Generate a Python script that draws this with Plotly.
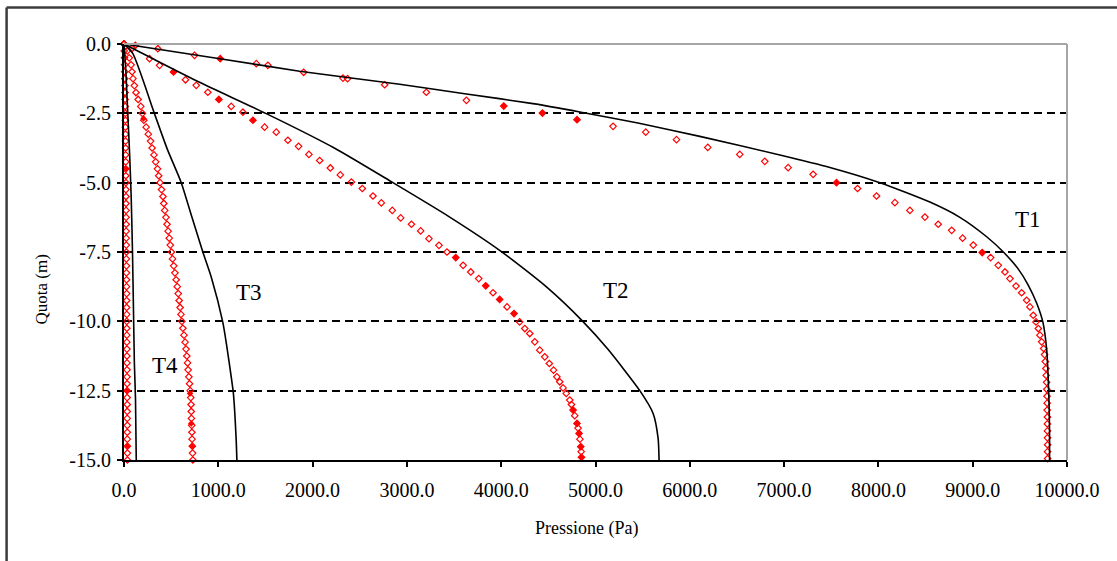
import plotly.graph_objects as go

# ---------------- data ----------------
# Black curves (x = pressure Pa, y = elevation m)
T1_LINE_X = [0, 1000, 1862, 2923, 3631, 4337, 4833, 5450, 6106, 6955, 7486, 8016, 8546, 8864, 9148, 9325, 9480, 9590, 9680, 9745, 9785, 9800, 9810, 9815, 9815]
T1_LINE_Y = [0, -0.52, -0.98, -1.45, -1.80, -2.15, -2.45, -2.85, -3.33, -4.00, -4.45, -5.00, -5.70, -6.25, -6.95, -7.50, -8.10, -8.70, -9.36, -10.04, -11.04, -12.0, -13.0, -14.0, -15.0]

T2_LINE_X = [0, 271, 801, 1509, 2230, 2852, 3454, 3984, 4480, 4865, 5130, 5470, 5611, 5664, 5674]
T2_LINE_Y = [0, -0.47, -1.38, -2.51, -3.75, -5.00, -6.24, -7.44, -8.76, -10.0, -11.0, -12.50, -13.32, -14.22, -15.0]

T3_LINE_X = [0, 94, 323, 460, 607, 720, 836, 925, 1048, 1090, 1137, 1160, 1190, 1197]
T3_LINE_Y = [0, -0.35, -2.51, -3.80, -5.0, -6.24, -7.5, -8.40, -10.04, -10.9, -12.0, -12.6, -14.3, -15.0]

T4_LINE_X = [0, 20, 40, 60, 76, 90, 100, 110, 122, 130]
T4_LINE_Y = [0, -1.0, -2.5, -4.0, -5.5, -7.5, -9.5, -11.5, -12.8, -15.0]

# Red open-diamond series
T1_PTS_X = [0, 120, 359, 748, 1021, 1403, 1526, 1905, 2322, 2371, 2764, 3206, 3631, 4027, 4437, 4804, 5186, 5533, 5859, 6191, 6530, 6795, 7043, 7308, 7556, 7779, 7980, 8175, 8334, 8493, 8634, 8777, 8893, 9006, 9101, 9190, 9271, 9342, 9395, 9459, 9519, 9572, 9607, 9642, 9671, 9696, 9713, 9731, 9752, 9762, 9770, 9776, 9780, 9784, 9786, 9788, 9790, 9790, 9792, 9792, 9793, 9793, 9794, 9794, 9795]
T1_PTS_Y = [0, -0.05, -0.17, -0.41, -0.53, -0.71, -0.77, -1.02, -1.23, -1.25, -1.47, -1.74, -2.03, -2.24, -2.49, -2.73, -2.97, -3.18, -3.45, -3.73, -3.98, -4.23, -4.46, -4.70, -5.00, -5.21, -5.48, -5.72, -6.00, -6.24, -6.50, -6.72, -7.00, -7.25, -7.52, -7.70, -7.98, -8.22, -8.46, -8.73, -8.97, -9.24, -9.48, -9.78, -10.02, -10.26, -10.50, -10.74, -10.98, -11.20, -11.45, -11.70, -11.95, -12.20, -12.45, -12.70, -12.95, -13.20, -13.45, -13.70, -13.95, -14.20, -14.45, -14.70, -14.95]

T2_PTS_X = [0, 90, 271, 377, 525, 652, 766, 889, 1006, 1137, 1261, 1367, 1491, 1615, 1738, 1851, 1961, 2075, 2188, 2294, 2411, 2527, 2640, 2729, 2845, 2934, 3048, 3146, 3234, 3340, 3425, 3518, 3596, 3677, 3762, 3836, 3913, 3984, 4062, 4136, 4196, 4250, 4303, 4356, 4409, 4462, 4510, 4555, 4590, 4621, 4656, 4690, 4727, 4745, 4762, 4780, 4804, 4815, 4826, 4835, 4844, 4848, 4851]
T2_PTS_Y = [0, -0.15, -0.53, -0.77, -1.01, -1.29, -1.49, -1.74, -2.00, -2.25, -2.46, -2.75, -3.00, -3.18, -3.47, -3.69, -3.98, -4.20, -4.47, -4.72, -4.98, -5.21, -5.48, -5.73, -6.00, -6.27, -6.50, -6.74, -7.02, -7.26, -7.50, -7.70, -7.98, -8.22, -8.46, -8.72, -8.97, -9.21, -9.48, -9.72, -10.02, -10.26, -10.44, -10.74, -11.04, -11.28, -11.52, -11.76, -12.00, -12.18, -12.40, -12.60, -12.84, -13.00, -13.20, -13.40, -13.68, -13.85, -14.04, -14.25, -14.52, -14.70, -14.90]

T3_PTS_X = [0, 35, 55, 75, 85, 95, 110, 127, 150, 178, 195, 210, 235, 258, 282, 298, 318, 336, 355, 368, 382, 398, 413, 422, 432, 445, 456, 468, 480, 491, 503, 515, 527, 540, 553, 565, 575, 585, 595, 604, 613, 624, 636, 648, 658, 666, 674, 680, 688, 695, 702, 708, 711, 713, 715, 718, 720, 722, 725, 727, 730]
T3_PTS_Y = [0, -0.25, -0.5, -0.75, -1.0, -1.25, -1.5, -1.75, -2.0, -2.25, -2.5, -2.75, -3.0, -3.25, -3.5, -3.75, -4.0, -4.25, -4.5, -4.75, -5.0, -5.25, -5.5, -5.75, -6.0, -6.25, -6.5, -6.75, -7.0, -7.25, -7.5, -7.75, -8.0, -8.25, -8.5, -8.75, -9.0, -9.25, -9.5, -9.75, -10.0, -10.25, -10.5, -10.75, -11.0, -11.25, -11.5, -11.75, -12.0, -12.25, -12.5, -12.75, -13.0, -13.25, -13.5, -13.75, -14.0, -14.25, -14.5, -14.75, -15.0]

T4_PTS_X = [0, 3, 5, 7, 8, 9, 10, 11, 12, 13, 14, 15, 15, 16, 16, 17, 17, 18, 18, 19, 20, 20, 21, 21, 22, 22, 23, 23, 24, 24, 25, 25, 26, 26, 27, 27, 28, 28, 28, 29, 29, 30, 30, 30, 31, 31, 32, 32, 32, 33, 33, 33, 34, 34, 34, 35, 35, 35, 36, 36, 36]
T4_PTS_Y = [0, -0.25, -0.5, -0.75, -1.0, -1.25, -1.5, -1.75, -2.0, -2.25, -2.5, -2.75, -3.0, -3.25, -3.5, -3.75, -4.0, -4.25, -4.5, -4.75, -5.0, -5.25, -5.5, -5.75, -6.0, -6.25, -6.5, -6.75, -7.0, -7.25, -7.5, -7.75, -8.0, -8.25, -8.5, -8.75, -9.0, -9.25, -9.5, -9.75, -10.0, -10.25, -10.5, -10.75, -11.0, -11.25, -11.5, -11.75, -12.0, -12.25, -12.5, -12.75, -13.0, -13.25, -13.5, -13.75, -14.0, -14.25, -14.5, -14.75, -15.0]

# Red filled markers
FILLED_X = [1021, 4027, 4437, 4804, 7556, 9101, 525, 1006, 1367, 3518, 3836, 3984, 4136, 4762, 4804, 4826, 4844, 4851, 207, 700, 713, 725, 20, 30, 35]
FILLED_Y = [-0.53, -2.24, -2.49, -2.73, -5.00, -7.52, -1.01, -2.00, -2.75, -7.70, -8.72, -9.21, -9.72, -13.2, -13.68, -14.04, -14.52, -14.9, -2.69, -12.6, -13.68, -14.5, -4.5, -12.5, -14.5]

CURVE_LABELS = ["T1", "T2", "T3", "T4"]
LABEL_X = [9590, 5215, 1321, 440]
LABEL_Y = [-6.34, -8.88, -8.95, -11.61]

Y_TICKS = [0, -2.5, -5, -7.5, -10, -12.5, -15]
Y_TICK_TEXT = ["0.0", "-2.5", "-5.0", "-7.5", "-10.0", "-12.5", "-15.0"]
X_TITLE = "Pressione (Pa)"
Y_TITLE = "Quota (m)"

# ---------------- figure ----------------
SERIF = "Liberation Serif, Times New Roman, serif"
fig = go.Figure()

pts = [(T1_PTS_X, T1_PTS_Y), (T2_PTS_X, T2_PTS_Y), (T3_PTS_X, T3_PTS_Y), (T4_PTS_X, T4_PTS_Y)]
for px, py in pts:
    fig.add_trace(go.Scatter(x=px, y=py, mode="markers",
                             marker=dict(symbol="diamond-open", size=5, color="#ff0000",
                                         line=dict(width=1.2, color="#ff0000")),
                             showlegend=False, cliponaxis=False))
fig.add_trace(go.Scatter(x=FILLED_X, y=FILLED_Y, mode="markers",
                         marker=dict(symbol="diamond", size=5, color="#ff0000"),
                         showlegend=False, cliponaxis=False))

lines = [(T1_LINE_X, T1_LINE_Y), (T2_LINE_X, T2_LINE_Y), (T3_LINE_X, T3_LINE_Y), (T4_LINE_X, T4_LINE_Y)]
for lx, ly in lines:
    fig.add_trace(go.Scatter(x=lx, y=ly, mode="lines",
                             line=dict(color="black", width=1.6, shape="spline", smoothing=0.6),
                             showlegend=False))

annotations = []
for t, ax_, ay_ in zip(CURVE_LABELS, LABEL_X, LABEL_Y):
    annotations.append(dict(x=ax_, y=ay_, xref="x", yref="y", text=t, showarrow=False,
                            font=dict(family=SERIF, size=23, color="black")))
annotations.append(dict(x=0.49, y=-0.135, xref="paper", yref="paper", text=X_TITLE,
                        showarrow=False, yanchor="top",
                        font=dict(family=SERIF, size=18, color="black")))
annotations.append(dict(x=-0.088, y=0.41, xref="paper", yref="paper", text=Y_TITLE,
                        showarrow=False, textangle=-90, xanchor="center",
                        font=dict(family=SERIF, size=17, color="black")))

shapes = [
    # gray top and right frame of the plot area
    dict(type="line", xref="paper", yref="paper", x0=0, y0=1, x1=1, y1=1,
         line=dict(color="#a6a6a6", width=2), layer="above"),
    dict(type="line", xref="paper", yref="paper", x0=1, y0=0, x1=1, y1=1,
         line=dict(color="#a6a6a6", width=2), layer="above"),
    # outer chart border (top and left visible)
    dict(type="line", xref="paper", yref="paper", x0=-0.1245, y0=1.0876, x1=1.1, y1=1.0876,
         line=dict(color="#3c3c3c", width=2.5), layer="above"),
    dict(type="line", xref="paper", yref="paper", x0=-0.1245, y0=1.0876, x1=-0.1245, y1=-0.3,
         line=dict(color="#3c3c3c", width=2.5), layer="above"),
]

fig.update_layout(
    width=1117, height=561,
    margin=dict(l=124, r=50, t=44, b=101, pad=0),
    paper_bgcolor="white", plot_bgcolor="white",
    showlegend=False,
    annotations=annotations,
    shapes=shapes,
    font=dict(family=SERIF, color="black"),
)
fig.update_xaxes(range=[0, 10000], dtick=1000, tick0=0, tickformat=".1f",
                 showgrid=False, zeroline=False,
                 showline=True, linecolor="black", linewidth=2,
                 ticks="outside", ticklen=5, tickwidth=1.5, tickcolor="black",
                 tickfont=dict(family=SERIF, size=20, color="black"),
                 ticklabelstandoff=6)
fig.update_yaxes(range=[-15, 0], tickvals=Y_TICKS, ticktext=Y_TICK_TEXT,
                 showgrid=True, gridcolor="black", gridwidth=1.6, griddash="8px,5px",
                 zeroline=False,
                 showline=True, linecolor="black", linewidth=2,
                 ticks="outside", ticklen=5, tickwidth=1.5, tickcolor="black",
                 tickfont=dict(family=SERIF, size=20, color="black"),
                 ticklabelstandoff=2)

fig.write_html("out.html")
